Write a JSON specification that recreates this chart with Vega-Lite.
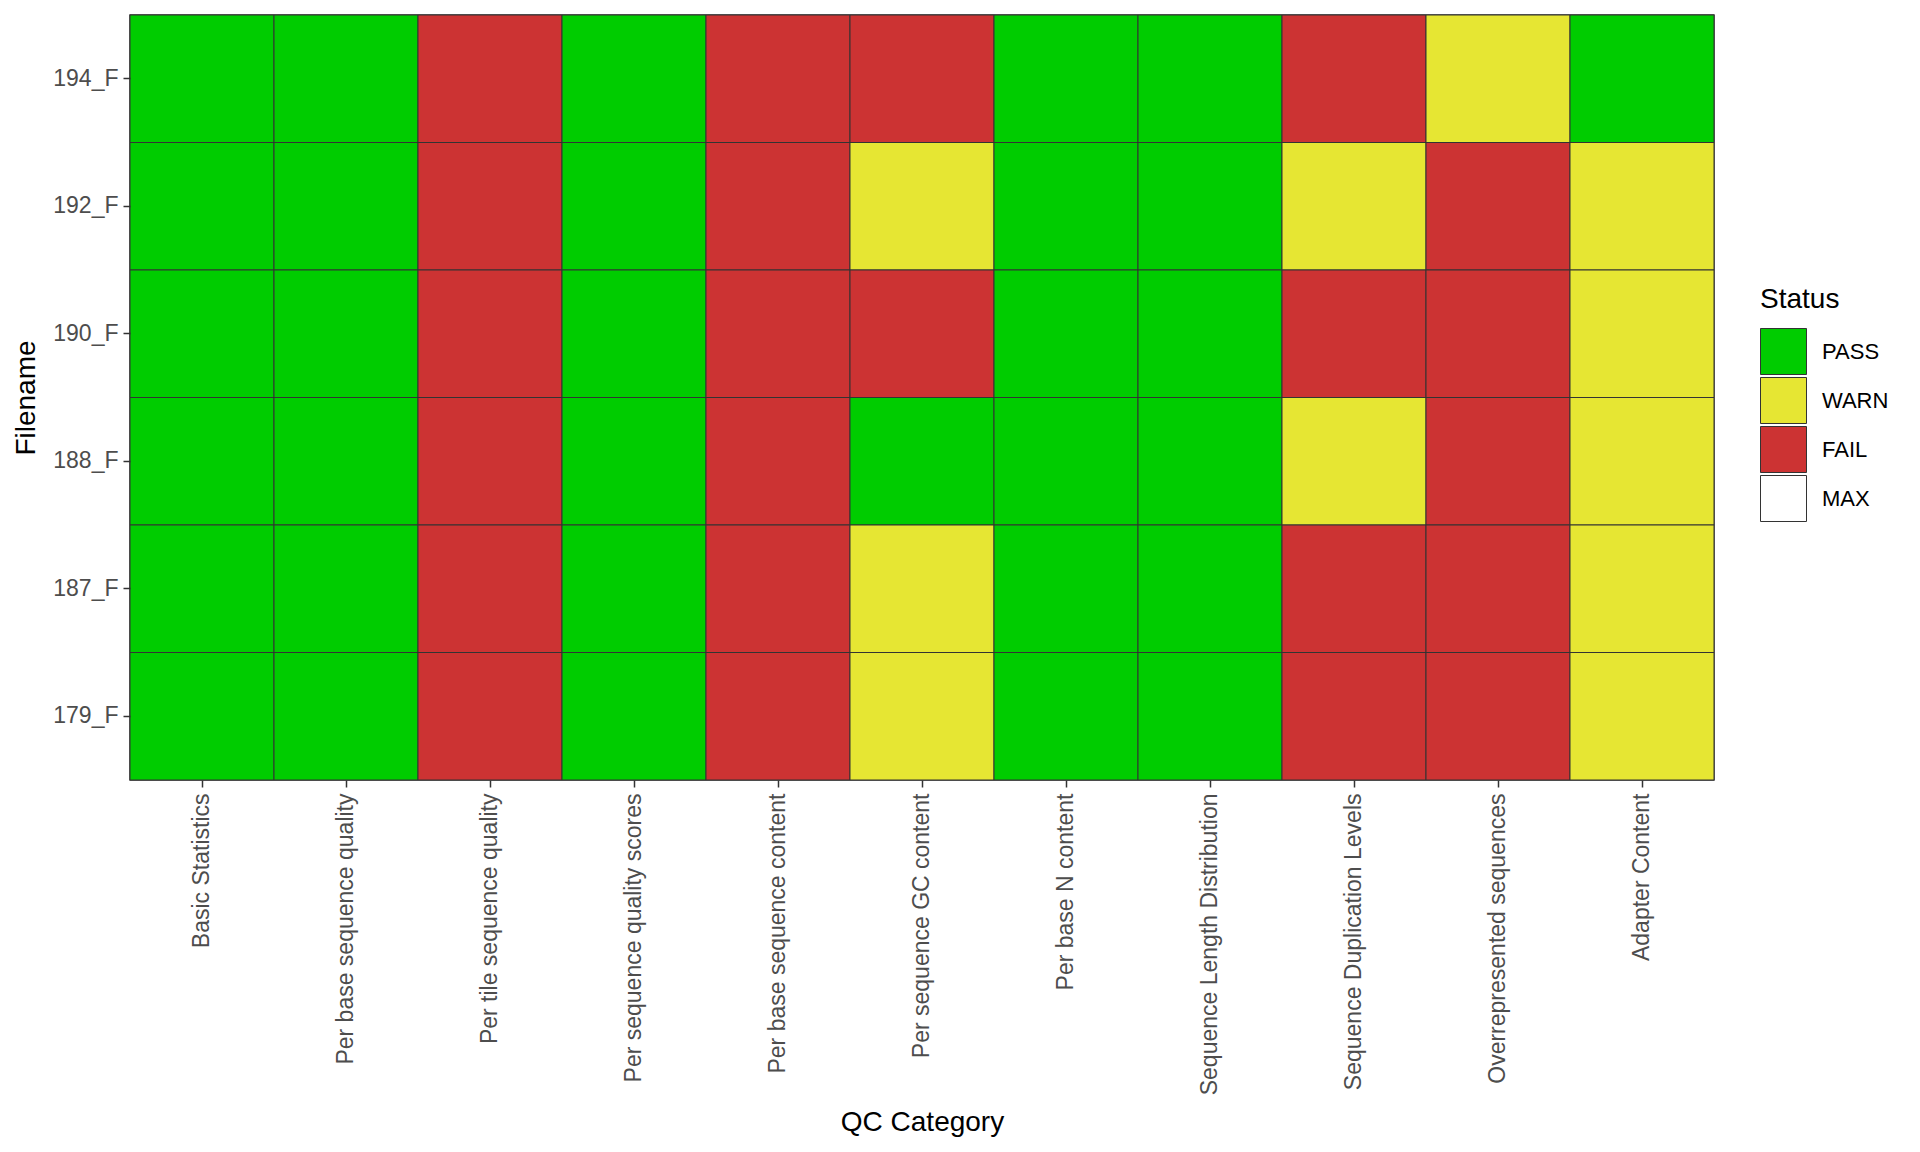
{
  "$schema": "https://vega.github.io/schema/vega-lite/v6.json",
  "width": 1584,
  "height": 765,
  "autosize": {"type": "none"},
  "padding": {"left": 130, "top": 15, "right": 206, "bottom": 372},
  "background": "white",
  "data": {
    "values": [
      {"file": "194_F", "cat": "Basic Statistics", "status": "PASS"},
      {"file": "192_F", "cat": "Basic Statistics", "status": "PASS"},
      {"file": "190_F", "cat": "Basic Statistics", "status": "PASS"},
      {"file": "188_F", "cat": "Basic Statistics", "status": "PASS"},
      {"file": "187_F", "cat": "Basic Statistics", "status": "PASS"},
      {"file": "179_F", "cat": "Basic Statistics", "status": "PASS"},
      {"file": "194_F", "cat": "Per base sequence quality", "status": "PASS"},
      {"file": "192_F", "cat": "Per base sequence quality", "status": "PASS"},
      {"file": "190_F", "cat": "Per base sequence quality", "status": "PASS"},
      {"file": "188_F", "cat": "Per base sequence quality", "status": "PASS"},
      {"file": "187_F", "cat": "Per base sequence quality", "status": "PASS"},
      {"file": "179_F", "cat": "Per base sequence quality", "status": "PASS"},
      {"file": "194_F", "cat": "Per tile sequence quality", "status": "FAIL"},
      {"file": "192_F", "cat": "Per tile sequence quality", "status": "FAIL"},
      {"file": "190_F", "cat": "Per tile sequence quality", "status": "FAIL"},
      {"file": "188_F", "cat": "Per tile sequence quality", "status": "FAIL"},
      {"file": "187_F", "cat": "Per tile sequence quality", "status": "FAIL"},
      {"file": "179_F", "cat": "Per tile sequence quality", "status": "FAIL"},
      {"file": "194_F", "cat": "Per sequence quality scores", "status": "PASS"},
      {"file": "192_F", "cat": "Per sequence quality scores", "status": "PASS"},
      {"file": "190_F", "cat": "Per sequence quality scores", "status": "PASS"},
      {"file": "188_F", "cat": "Per sequence quality scores", "status": "PASS"},
      {"file": "187_F", "cat": "Per sequence quality scores", "status": "PASS"},
      {"file": "179_F", "cat": "Per sequence quality scores", "status": "PASS"},
      {"file": "194_F", "cat": "Per base sequence content", "status": "FAIL"},
      {"file": "192_F", "cat": "Per base sequence content", "status": "FAIL"},
      {"file": "190_F", "cat": "Per base sequence content", "status": "FAIL"},
      {"file": "188_F", "cat": "Per base sequence content", "status": "FAIL"},
      {"file": "187_F", "cat": "Per base sequence content", "status": "FAIL"},
      {"file": "179_F", "cat": "Per base sequence content", "status": "FAIL"},
      {"file": "194_F", "cat": "Per sequence GC content", "status": "FAIL"},
      {"file": "192_F", "cat": "Per sequence GC content", "status": "WARN"},
      {"file": "190_F", "cat": "Per sequence GC content", "status": "FAIL"},
      {"file": "188_F", "cat": "Per sequence GC content", "status": "PASS"},
      {"file": "187_F", "cat": "Per sequence GC content", "status": "WARN"},
      {"file": "179_F", "cat": "Per sequence GC content", "status": "WARN"},
      {"file": "194_F", "cat": "Per base N content", "status": "PASS"},
      {"file": "192_F", "cat": "Per base N content", "status": "PASS"},
      {"file": "190_F", "cat": "Per base N content", "status": "PASS"},
      {"file": "188_F", "cat": "Per base N content", "status": "PASS"},
      {"file": "187_F", "cat": "Per base N content", "status": "PASS"},
      {"file": "179_F", "cat": "Per base N content", "status": "PASS"},
      {"file": "194_F", "cat": "Sequence Length Distribution", "status": "PASS"},
      {"file": "192_F", "cat": "Sequence Length Distribution", "status": "PASS"},
      {"file": "190_F", "cat": "Sequence Length Distribution", "status": "PASS"},
      {"file": "188_F", "cat": "Sequence Length Distribution", "status": "PASS"},
      {"file": "187_F", "cat": "Sequence Length Distribution", "status": "PASS"},
      {"file": "179_F", "cat": "Sequence Length Distribution", "status": "PASS"},
      {"file": "194_F", "cat": "Sequence Duplication Levels", "status": "FAIL"},
      {"file": "192_F", "cat": "Sequence Duplication Levels", "status": "WARN"},
      {"file": "190_F", "cat": "Sequence Duplication Levels", "status": "FAIL"},
      {"file": "188_F", "cat": "Sequence Duplication Levels", "status": "WARN"},
      {"file": "187_F", "cat": "Sequence Duplication Levels", "status": "FAIL"},
      {"file": "179_F", "cat": "Sequence Duplication Levels", "status": "FAIL"},
      {"file": "194_F", "cat": "Overrepresented sequences", "status": "WARN"},
      {"file": "192_F", "cat": "Overrepresented sequences", "status": "FAIL"},
      {"file": "190_F", "cat": "Overrepresented sequences", "status": "FAIL"},
      {"file": "188_F", "cat": "Overrepresented sequences", "status": "FAIL"},
      {"file": "187_F", "cat": "Overrepresented sequences", "status": "FAIL"},
      {"file": "179_F", "cat": "Overrepresented sequences", "status": "FAIL"},
      {"file": "194_F", "cat": "Adapter Content", "status": "PASS"},
      {"file": "192_F", "cat": "Adapter Content", "status": "WARN"},
      {"file": "190_F", "cat": "Adapter Content", "status": "WARN"},
      {"file": "188_F", "cat": "Adapter Content", "status": "WARN"},
      {"file": "187_F", "cat": "Adapter Content", "status": "WARN"},
      {"file": "179_F", "cat": "Adapter Content", "status": "WARN"}
    ]
  },
  "mark": {"type": "rect", "stroke": "#333333", "strokeWidth": 1},
  "encoding": {
    "x": {
      "field": "cat",
      "type": "nominal",
      "sort": ["Basic Statistics", "Per base sequence quality", "Per tile sequence quality", "Per sequence quality scores", "Per base sequence content", "Per sequence GC content", "Per base N content", "Sequence Length Distribution", "Sequence Duplication Levels", "Overrepresented sequences", "Adapter Content"],
      "scale": {"paddingInner": 0, "paddingOuter": 0},
      "title": "QC Category",
      "axis": {"labelAngle": -90, "labelPadding": 6, "labelLimit": 500, "titleY": 350, "titleBaseline": "alphabetic"}
    },
    "y": {
      "field": "file",
      "type": "nominal",
      "sort": ["194_F", "192_F", "190_F", "188_F", "187_F", "179_F"],
      "scale": {"paddingInner": 0, "paddingOuter": 0},
      "title": "Filename",
      "axis": {"labelPadding": 5, "titlePadding": 12}
    },
    "fill": {
      "field": "status",
      "type": "nominal",
      "title": "Status",
      "scale": {"domain": ["PASS", "WARN", "FAIL", "MAX"], "range": ["#00CC00", "#E6E633", "#CC3333", "#FFFFFF"]},
      "legend": {"orient": "none", "legendX": 1630, "legendY": 271}
    }
  },
  "config": {
    "font": "Liberation Sans",
    "view": {"stroke": "#333333", "strokeWidth": 1.5},
    "axis": {
      "domain": false,
      "grid": false,
      "ticks": true,
      "tickSize": 7,
      "tickWidth": 1.5,
      "tickColor": "#333333",
      "labelFont": "Liberation Sans",
      "labelFontSize": 23,
      "labelColor": "#4D4D4D",
      "titleFont": "Liberation Sans",
      "titleFontSize": 28,
      "titleFontWeight": "normal",
      "titleColor": "#000000"
    },
    "legend": {
      "padding": 0,
      "titleFont": "Liberation Sans",
      "titleFontSize": 28,
      "titleFontWeight": "normal",
      "titleColor": "#000000",
      "titlePadding": 14,
      "labelFont": "Liberation Sans",
      "labelFontSize": 22,
      "labelColor": "#000000",
      "labelOffset": 15,
      "symbolType": "square",
      "symbolSize": 2116,
      "symbolStrokeColor": "#333333",
      "symbolStrokeWidth": 1,
      "symbolOpacity": 1,
      "rowPadding": -10
    }
  }
}
